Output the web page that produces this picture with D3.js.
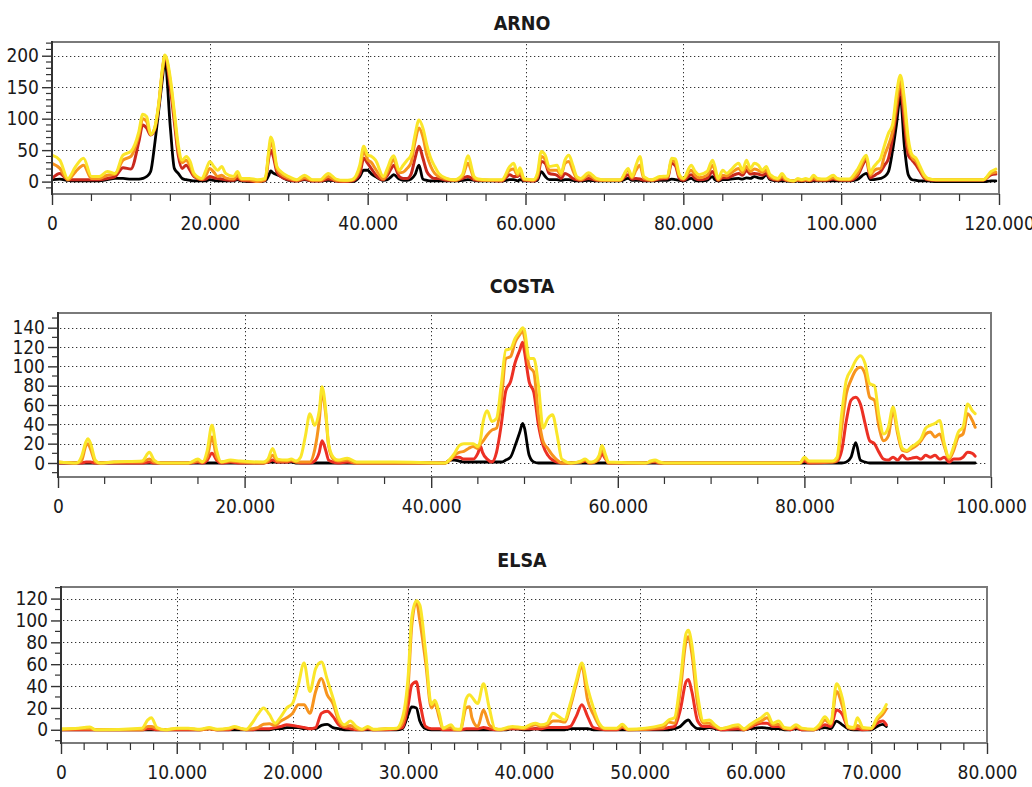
<!DOCTYPE html>
<html>
<head>
<meta charset="utf-8">
<script src="https://cdnjs.cloudflare.com/ajax/libs/d3/7.8.5/d3.min.js"></script>
<style>
  html, body { margin: 0; padding: 0; background: #fff; }
  svg { display: block; }
  text { font-family: "Liberation Sans Narrow", "Arial Narrow", "DejaVu Sans Condensed", sans-serif; font-stretch: condensed; fill: #1a1a1a; }
</style>
</head>
<body>
<svg id="chart" width="1032" height="787"></svg>
<script>
// ---------------- DATA (x in thousands) ----------------
const titles = ["ARNO", "COSTA", "ELSA"];
const seriesNames = ["black", "red", "orange", "yellow"];

// ARNO
const arnoX = [
  0,1,2,3,4,5,6,7,8,9,
  10,11,11.5,12,12.5,13,13.5,14,14.3,15,
  15.5,16,16.5,17,17.5,18,19,19.5,20,20.5,
  21,21.5,22,23,23.5,24,25,26,27,27.5,
  27.7,28,28.5,29,30,31,32,33,34,35,
  36,37,38,39,39.5,40,40.5,41,42,42.5,
  43,43.3,44,44.5,45,45.5,46,46.5,47,47.5,
  48,48.5,49,50,51,52,52.7,53.5,54,55,
  57,58,58.5,59,59.3,59.8,60,61,61.5,62,
  62.5,63,64,64.5,65,65.5,66,66.5,67,68,
  69,70,72,73,73.5,74,74.5,75,76,77,
  78,78.5,79,79.5,80,81,81.5,82,83,83.7,
  84,84.4,85,85.5,86,87,87.5,88,88.5,89,
  89.5,90,90.5,91,92,92.5,93,94,94.5,95,
  95.5,96,96.5,97,98,99,99.5,100,101,102,
  103.2,103.7,104,104.5,105,105.5,106,106.5,107,107.5,
  108,108.5,109,109.5,110,110.5,111,112,118,119,119.6];
const arnoBlack = [
  3,4,2,1,1,1,1,3,5,5,
  4,4,5,8,16,58,111,164,194,85,
  21,13,5,3,2,1,1,1,3,2,
  1,1,1,1,3,1,0,0,1,11,
  17,14,11,8,2,1,3,1,1,2,
  1,0,0,8,18,18,12,8,2,3,
  8,11,4,2,2,4,11,26,4,2,
  1,1,1,1,1,2,3,2,1,1,
  1,3,3,1,3,1,1,1,2,16,
  8,3,3,2,3,3,2,1,1,2,
  1,1,1,5,2,2,2,1,1,2,
  2,4,3,2,1,5,2,1,2,8,
  3,1,3,3,4,5,4,6,5,8,
  6,5,11,3,1,1,1,0,1,0,
  1,0,1,1,1,1,1,1,1,3,
  13,3,3,4,5,8,16,48,90,135,
  58,11,3,2,1,1,1,0,0,1,1];
const arnoRed = [
  5,13,3,3,3,3,3,5,8,22,
  20,63,90,85,74,82,118,175,199,148,
  95,42,21,26,18,8,3,4,8,6,
  5,4,3,2,5,2,1,0,2,40,
  50,42,15,8,3,1,4,1,1,4,
  1,0,1,12,37,29,20,11,3,10,
  21,26,8,5,5,12,37,56,37,16,
  8,5,5,2,2,5,8,3,2,2,
  1,11,8,8,11,2,2,1,5,32,
  29,13,10,5,13,10,5,3,2,5,
  2,2,2,11,4,5,4,2,2,4,
  5,29,25,5,2,11,5,3,5,16,
  10,2,6,6,8,13,10,18,12,13,
  12,10,13,5,2,4,2,1,2,1,
  2,1,3,2,2,4,3,2,2,8,
  34,6,8,12,16,26,37,69,111,148,
  95,42,34,26,16,6,3,2,2,11,12];
const arnoOrange = [
  29,21,3,16,26,5,5,10,12,34,
  40,74,100,95,75,84,120,178,200,158,
  105,50,30,34,25,10,4,10,21,15,
  8,10,6,4,10,3,3,0,3,48,
  62,55,20,12,5,2,6,2,2,8,
  2,1,2,20,48,35,30,20,4,15,
  30,35,14,15,21,30,63,85,71,42,
  24,13,8,4,2,8,29,5,3,2,
  2,18,20,10,16,3,3,2,8,40,
  35,18,18,10,29,32,18,5,3,10,
  3,2,2,18,6,18,26,5,2,6,
  7,34,30,8,4,18,10,6,10,26,
  18,3,10,9,13,21,14,24,16,20,
  18,15,18,8,3,8,3,1,3,2,
  3,2,6,3,3,6,4,3,3,12,
  38,10,15,20,21,42,58,79,122,159,
  115,55,38,32,20,8,4,3,3,13,15];
const arnoYellow = [
  42,34,5,24,37,8,8,16,13,42,
  48,79,107,103,75,85,122,180,201,164,
  111,58,34,40,32,13,5,18,32,24,
  18,24,13,8,16,5,5,3,5,53,
  71,63,24,16,8,3,10,3,3,13,
  4,2,3,26,56,42,40,34,8,21,
  37,41,18,26,34,42,74,98,85,58,
  37,24,13,5,3,11,41,8,4,3,
  3,24,29,13,22,5,4,3,13,48,
  42,24,26,13,34,42,26,8,5,14,
  5,3,3,21,8,26,40,8,3,8,
  9,37,36,11,5,26,16,11,16,34,
  24,5,18,13,18,29,18,34,21,29,
  26,18,24,11,5,13,5,1,5,3,
  5,3,10,5,4,10,5,4,4,18,
  42,13,21,29,37,58,77,90,138,169,
  132,69,42,37,24,11,5,3,3,16,20];
const arnoXTicks = [0,20,40,60,80,100,120];
const arnoXTickLabels = ["0","20.000","40.000","60.000","80.000","100.000","120.000"];
const arnoYTicks = [0,50,100,150,200];

// COSTA
const costaX = [
  0,2,2.5,3,3.2,3.5,4,4.5,6,9,
  9.8,10.3,11,14,15,15.5,16,16.5,17,17.5,
  18.5,19.5,22,22.5,23,23.5,24.5,25,25.5,26,
  26.5,27,27.5,28,28.3,28.7,29,29.5,30,31,
  32,36,41.5,42,42.5,43,43.5,44,44.5,45,
  45.3,45.5,46,46.5,47,47.5,48,48.5,49,49.5,
  49.8,50,50.5,51,51.5,52,52.5,53,53.5,54,
  55,56,56.5,57,57.5,58,58.3,58.7,59,63,
  63.5,64,64.5,65,79.5,80,80.5,83,83.5,84,
  84.5,85,85.5,86,86.5,87,87.5,88,88.5,89,
  89.5,90,90.5,91,91.5,92,92.5,93,93.5,94,
  94.5,95,95.5,96,96.5,97,97.5,98,98.3];
const costaBlack = [
  0,0,0,0,0,0,0,0,0,0,
  0,0,0,0,0,0,0,0,0,0,
  0,0,0,1,1,1,1,1,0,0,
  0,0,0,0,0,0,0,0,0,0,
  0,0,0,3,3,2,1,1,1,1,
  1,1,1,1,1,1,3,6,18,32,
  41,36,8,1,0,0,0,0,0,0,
  0,0,0,0,0,0,0,0,0,0,
  0,0,0,0,0,0,0,0,0,0,
  1,6,21,3,1,0,0,0,0,0,
  0,0,0,0,0,0,0,0,0,0,
  0,0,0,0,0,0,0,0,0];
const costaRed = [
  0,0,0,1,1,1,0,0,0,0,
  1,0,0,0,1,0,3,10,3,0,
  1,0,0,1,3,1,1,2,1,0,
  0,0,2,11,23,13,3,1,0,1,
  0,0,0,3,6,6,4,4,4,10,
  17,11,4,1,11,39,75,84,104,117,
  125,115,84,73,39,18,8,3,1,0,
  0,1,2,0,1,4,9,4,0,0,
  1,1,0,0,0,2,0,1,2,13,
  44,65,68,61,41,23,20,11,4,3,
  6,3,8,4,5,6,4,8,6,8,
  4,6,1,4,4,6,11,10,7];
const costaOrange = [
  1,0,2,18,20,14,1,0,1,1,
  4,1,0,0,2,1,6,27,6,1,
  2,1,0,2,8,2,2,3,1,1,
  1,1,13,44,73,50,18,4,2,3,
  0,0,0,3,8,11,12,15,17,15,
  20,22,29,34,36,63,108,110,125,133,
  137,130,100,94,49,22,15,8,3,0,
  0,1,3,0,1,5,15,5,0,0,
  1,2,0,0,0,4,1,1,3,37,
  72,86,96,99,92,68,65,37,23,28,
  54,30,13,12,15,18,23,30,32,27,
  30,17,4,13,27,30,51,44,37];
const costaYellow = [
  1,0,6,22,25,20,3,0,1,2,
  11,3,0,0,4,1,13,39,13,1,
  3,2,1,4,15,4,3,4,2,6,
  27,51,39,54,79,54,20,6,3,5,
  1,1,0,4,10,18,20,20,20,17,
  25,39,54,43,46,80,117,118,129,136,
  140,137,108,108,80,36,46,50,29,4,
  0,2,4,1,2,8,18,8,1,0,
  2,3,1,0,0,6,2,2,6,51,
  86,96,106,111,103,82,80,48,30,37,
  58,34,15,13,17,20,25,36,39,41,
  44,20,6,17,32,37,61,54,51];
const costaXTicks = [0,20,40,60,80,100];
const costaXTickLabels = ["0","20.000","40.000","60.000","80.000","100.000"];
const costaYTicks = [0,20,40,60,80,100,120,140];

// ELSA
const elsaX = [
  0,1.5,2,2.5,3,7,7.5,7.8,8.3,9,
  10,11,12,12.8,13.5,14.5,15,15.5,16,16.5,
  17,17.5,18,18.5,19,19.5,20,20.5,21,21.5,
  22,22.5,23,23.5,24,24.5,25,25.5,26,26.5,
  27,28,29,29.5,30,30.3,30.7,31,31.5,32,
  32.3,32.7,33,33.7,34,34.5,35,35.3,35.5,36,
  36.5,37,37.5,38,38.5,39,40,40.5,41,41.5,
  42,42.5,43,43.5,44,44.5,45,45.5,46,46.5,
  47,48,48.5,49,52,52.5,53,53.5,54,54.2,
  54.5,55,55.5,56,56.5,57,58.5,59,59.5,60,
  60.5,61,61.5,62,62.5,63,63.5,64,65,65.5,
  66,66.5,67,67.5,68,68.5,68.8,69.3,70,70.5,
  71,71.3];
const elsaBlack = [
  0,0,0,0,0,0,0,0,0,0,
  0,0,0,1,0,0,0,0,0,0,
  0,0,0,1,1,2,2,2,1,1,
  1,4,5,2,1,0,0,0,0,0,
  0,0,0,1,14,21,20,8,1,0,
  0,0,0,0,0,0,0,0,0,0,
  0,0,0,0,0,1,0,0,1,0,
  0,0,0,0,1,1,1,1,0,0,
  0,0,0,0,0,0,1,3,8,9,
  5,1,1,2,1,0,0,0,1,1.5,
  2,1.5,1,1,0,0,1,0,0,1,
  2,1,8,4.5,1,0,0,0,0,3,
  5,3];
const elsaRed = [
  0,0,0,0,0,0,1,1,0,0,
  0,0,0,1,0,0,2,1,0,0,
  1,1,1,2,3,4.5,4,3,2,1,
  2,15,17,12,4.5,2,1,0,0,1,
  0,0,1,2,23,41,44,26,3,1,
  1,1,0,0,0,0,1,1,1,1,
  2,1,0,0,1,1,1,1,1,1,
  2,2,2,2,3,12,23,12,2,1,
  0,0,2,0,1,2,3,18,44,46,
  35,8,3,3,2,0,1,0,2,4.5,
  6,6,3,3,1,0,2,0,0,2,
  4.5,3,18,14,2,1,1,0,1,6,
  8,4.5];
const elsaOrange = [
  0,1,1,1,0,0,3,3,1,0,
  1,1,0,1,0,1,2,1,0,1,
  2,5,5.5,4,8,11,15,23,23,15,
  35,47,32,24,8,3,4,1,0,2,
  0,1,1,6,41,95,117,100,62,20,
  24,10,1,2,0,0,20,21,11,3,
  18,4.5,1,0,1,2,1,3,4.5,3,
  4,8,8,7,21,41,58,27,14,4,
  1,1,3,0,2,7,6,35,81,85,
  70,23,6,6,3,1,3,0,3,6,
  8,11,4.5,5,1,1,3,1,0,3,
  9,5,35,22,2,1,4,1,1,9,
  14,19];
const elsaYellow = [
  1,1.5,2,2.5,0,1.5,9,11,2,0,
  1.5,1.5,0.5,2,0.5,1.5,3,1.5,0.5,6,
  14,20,14,6,12,20,24,41,61,35,
  56,62,46,29,11,4.5,8,3,0.5,3,
  0.5,1,1.5,11,50,102,118,114,71,23,
  27,14,1.5,4.5,1,0.5,28,32,30,24,
  42,20,1,0.5,2,3,2,4.5,6,4.5,
  6,15,12,9,24,44,61,38,20,6,
  1.5,1.5,5,0.5,4.5,9,11,44,88,91,
  78,32,8,9,4.5,1,4.5,1,4.5,8,
  11,15,6,8,2,1.5,4.5,1.5,0.5,4.5,
  12,6,42,29,3,2,11,2,1.5,11,
  17,23];
const elsaXTicks = [0,10,20,30,40,50,60,70,80];
const elsaXTickLabels = ["0","10.000","20.000","30.000","40.000","50.000","60.000","70.000","80.000"];
const elsaYTicks = [0,20,40,60,80,100,120];

// ---------------- LAYOUT / STYLE ----------------
const colors = ["#000000", "#ec3024", "#f7941e", "#fae62a"];
const panels = [
  { title: titles[0], x: arnoX, series: [arnoBlack, arnoRed, arnoOrange, arnoYellow],
    xDomain: [0, 120], yDomain: [-19.7, 221.8], xTicks: arnoXTicks, xLabels: arnoXTickLabels,
    xMinorStep: 5, yTicks: arnoYTicks, yMinorStep: 10,
    left: 52, right: 999, top: 42, bottom: 194, titleY: 29.5, red: "#c9291d" },
  { title: titles[1], x: costaX, series: [costaBlack, costaRed, costaOrange, costaYellow],
    xDomain: [0, 100], yDomain: [-14.5, 155.2], xTicks: costaXTicks, xLabels: costaXTickLabels,
    xMinorStep: 5, yTicks: costaYTicks, yMinorStep: 10,
    left: 58, right: 991, top: 313, bottom: 477, titleY: 293, red: "#ec3024" },
  { title: titles[2], x: elsaX, series: [elsaBlack, elsaRed, elsaOrange, elsaYellow],
    xDomain: [0, 80], yDomain: [-12.1, 130.6], xTicks: elsaXTicks, xLabels: elsaXTickLabels,
    xMinorStep: 2, yTicks: elsaYTicks, yMinorStep: 10,
    left: 61, right: 987, top: 587, bottom: 743, titleY: 567, red: "#ec3024" }
];

const svg = d3.select("#chart");

panels.forEach(p => {
  const g = svg.append("g");
  const x = d3.scaleLinear().domain(p.xDomain).range([p.left, p.right]);
  const y = d3.scaleLinear().domain(p.yDomain).range([p.bottom, p.top]);

  // title
  g.append("text")
    .attr("x", 522).attr("y", p.titleY)
    .attr("text-anchor", "middle")
    .style("font-size", "19.5px").style("font-weight", "bold")
    .text(p.title);

  // grid
  const grid = g.append("g").attr("stroke", "#333").attr("stroke-width", 1)
    .attr("stroke-dasharray", "1.3,2.7");
  p.yTicks.forEach(t => {
    grid.append("line").attr("x1", p.left + 2).attr("x2", p.right - 3)
      .attr("y1", Math.round(y(t)) + 0.5).attr("y2", Math.round(y(t)) + 0.5);
  });
  p.xTicks.filter(t => t > p.xDomain[0] && t < p.xDomain[1]).forEach(t => {
    grid.append("line").attr("y1", p.top + 2).attr("y2", p.bottom - 1)
      .attr("x1", Math.round(x(t)) + 0.5).attr("x2", Math.round(x(t)) + 0.5);
  });

  // lines
  const clipId = "clip-" + p.title;
  svg.append("clipPath").attr("id", clipId).append("rect")
    .attr("x", p.left).attr("y", p.top).attr("width", p.right - p.left).attr("height", p.bottom - p.top);
  const lg = g.append("g").attr("clip-path", `url(#${clipId})`);
  p.series.forEach((vals, i) => {
    const pts = p.x.map((xv, j) => [xv, vals[j]]);
    const line = d3.line().x(d => x(d[0])).y(d => y(d[1])).curve(d3.curveMonotoneX);
    lg.append("path").datum(pts)
      .attr("fill", "none")
      .attr("stroke", i === 1 ? p.red : colors[i])
      .attr("stroke-width", i === 0 ? 2.8 : 3)
      .attr("stroke-linejoin", "round").attr("stroke-linecap", "round")
      .attr("d", line);
  });

  // frame
  g.append("rect").attr("x", p.left).attr("y", p.top)
    .attr("width", p.right - p.left).attr("height", p.bottom - p.top)
    .attr("fill", "none").attr("stroke", "#7a7a7a").attr("stroke-width", 2);
  g.append("line").attr("x1", p.left).attr("x2", p.left).attr("y1", p.top - 1).attr("y2", p.bottom + 1)
    .attr("stroke", "#222").attr("stroke-width", 1.6);

  // y ticks (major + minor)
  const yAxis = d3.axisLeft(y).tickValues(p.yTicks).tickSize(10).tickPadding(3).tickFormat(d3.format("d"));
  const ya = g.append("g").attr("transform", `translate(${p.left},0)`).call(yAxis);
  ya.select(".domain").remove();
  ya.selectAll("line").attr("stroke", "#333").attr("stroke-width", 1.4);
  ya.selectAll("text").style("font-size", "19px").attr("fill", "#1a1a1a");
  const yMinor = d3.range(Math.ceil(p.yDomain[0] / p.yMinorStep) * p.yMinorStep, p.yDomain[1], p.yMinorStep)
    .filter(v => !p.yTicks.includes(v));
  g.append("g").selectAll("line").data(yMinor).join("line")
    .attr("x1", p.left - 6).attr("x2", p.left)
    .attr("y1", d => y(d)).attr("y2", d => y(d))
    .attr("stroke", "#333").attr("stroke-width", 1.2);

  // x ticks
  const xAxis = d3.axisBottom(x).tickValues(p.xTicks).tickSize(11).tickPadding(12)
    .tickFormat((d, i) => p.xLabels[i]);
  const xa = g.append("g").attr("transform", `translate(0,${p.bottom})`).call(xAxis);
  xa.select(".domain").remove();
  xa.selectAll("line").attr("stroke", "#333").attr("stroke-width", 1.4);
  xa.selectAll("text").style("font-size", "19px").attr("fill", "#1a1a1a");
  const xMinor = d3.range(p.xDomain[0], p.xDomain[1], p.xMinorStep).filter(v => !p.xTicks.includes(v));
  g.append("g").selectAll("line").data(xMinor).join("line")
    .attr("y1", p.bottom).attr("y2", p.bottom + 7)
    .attr("x1", d => x(d)).attr("x2", d => x(d))
    .attr("stroke", "#333").attr("stroke-width", 1.2);
});
</script>
</body>
</html>
